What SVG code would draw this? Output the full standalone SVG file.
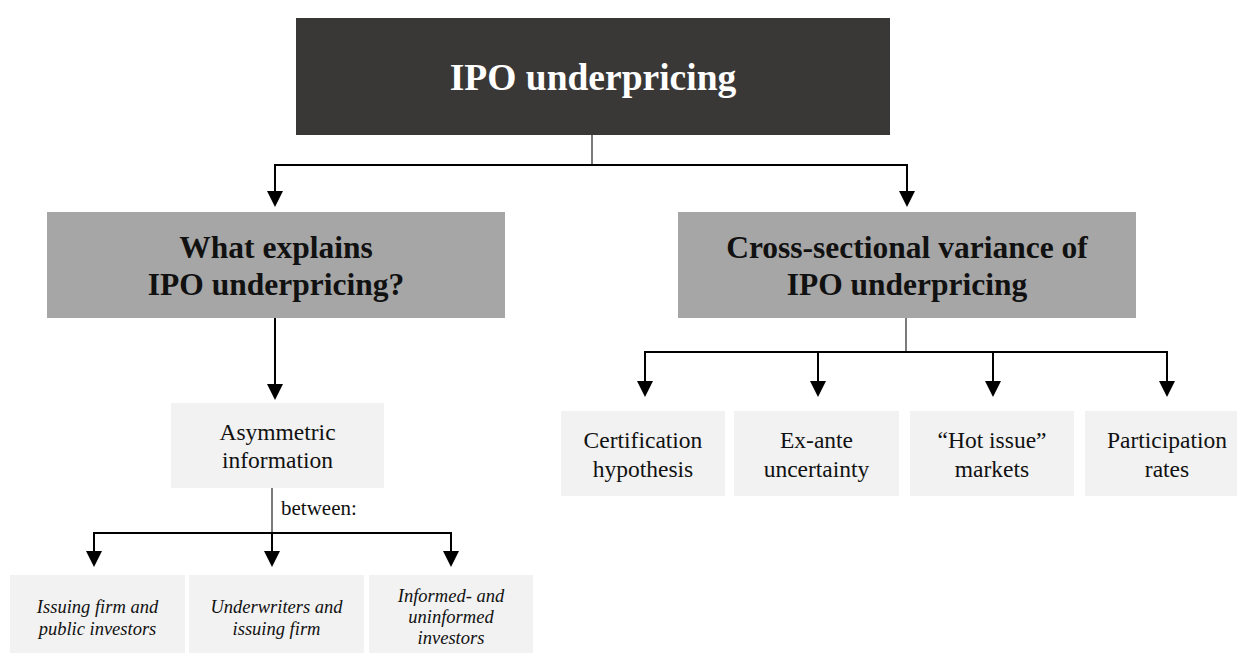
<svg xmlns="http://www.w3.org/2000/svg" width="1237" height="653" viewBox="0 0 1237 653">
<style>
text{font-family:"Liberation Serif","Times New Roman",serif;text-anchor:middle;fill:#111}
.title{font-size:37.5px;font-weight:bold;fill:#fff}
.mid{font-size:31.5px;font-weight:bold}
.leaf{font-size:23.5px}
.it{font-size:18.5px;font-style:italic}
.dark{fill:#3a3836}
.gray{fill:#a6a6a6}
.light{fill:#f2f2f2}
.arr{stroke:#000;stroke-width:2;fill:none;marker-end:url(#ah)}
.bar{stroke:#000;stroke-width:2;fill:none}
.stem{stroke:#222;stroke-width:1.2;fill:none}
</style>
<defs>
<marker id="ah" viewBox="0 0 16 16" markerWidth="16" markerHeight="16" refX="6" refY="8" orient="auto" markerUnits="userSpaceOnUse">
<path d="M0,0 L16,8 L0,16 z" fill="#000"/>
</marker>
</defs>
<rect width="1237" height="653" fill="#fff"/>
<g id="connectors">
<line class="stem" x1="592" y1="135" x2="592" y2="165"/>
<line class="bar" x1="275" y1="165" x2="907" y2="165"/>
<line class="arr" x1="275" y1="164" x2="275" y2="197"/>
<line class="arr" x1="907" y1="164" x2="907" y2="197"/>
<line class="arr" x1="275" y1="318" x2="275" y2="390"/>
<line class="stem" x1="272" y1="488" x2="272" y2="533"/>
<line class="bar" x1="94" y1="533" x2="451" y2="533"/>
<line class="arr" x1="94" y1="532" x2="94" y2="557"/>
<line class="arr" x1="272" y1="532" x2="272" y2="557"/>
<line class="arr" x1="451" y1="532" x2="451" y2="557"/>
<line class="stem" x1="906" y1="318" x2="906" y2="352"/>
<line class="bar" x1="645" y1="352" x2="1167" y2="352"/>
<line class="arr" x1="645" y1="351" x2="645" y2="387"/>
<line class="arr" x1="818" y1="351" x2="818" y2="387"/>
<line class="arr" x1="993" y1="351" x2="993" y2="387"/>
<line class="arr" x1="1167" y1="351" x2="1167" y2="387"/>
<text x="281" y="515" style="font-size:21px;text-anchor:start">between:</text>
</g>
<g id="root">
<rect class="dark" x="296" y="18" width="594" height="117"/>
<text class="title" x="593" y="90">IPO underpricing</text>
</g>
<g id="what-explains">
<rect class="gray" x="47" y="212" width="458" height="106"/>
<text class="mid" x="276" y="258">What explains</text>
<text class="mid" x="276" y="295">IPO underpricing?</text>
</g>
<g id="cross-sectional">
<rect class="gray" x="678" y="212" width="458" height="106"/>
<text class="mid" x="907" y="258">Cross-sectional variance of</text>
<text class="mid" x="907" y="295">IPO underpricing</text>
</g>
<g id="asymmetric">
<rect class="light" x="171" y="403" width="213" height="85"/>
<text class="leaf" x="277.5" y="440">Asymmetric</text>
<text class="leaf" x="277.5" y="468">information</text>
</g>
<g id="issuing-public">
<rect class="light" x="10" y="575" width="175" height="78"/>
<text class="it" x="97.5" y="613">Issuing firm and</text>
<text class="it" x="97.5" y="635">public investors</text>
</g>
<g id="underwriters-issuing">
<rect class="light" x="189" y="575" width="175" height="78"/>
<text class="it" x="276.5" y="613">Underwriters and</text>
<text class="it" x="276.5" y="635">issuing firm</text>
</g>
<g id="informed-uninformed">
<rect class="light" x="369" y="575" width="164" height="78"/>
<text class="it" x="451" y="602">Informed- and</text>
<text class="it" x="451" y="623">uninformed</text>
<text class="it" x="451" y="644">investors</text>
</g>
<g id="certification">
<rect class="light" x="561" y="411" width="164" height="85"/>
<text class="leaf" x="643" y="448">Certification</text>
<text class="leaf" x="643" y="477">hypothesis</text>
</g>
<g id="ex-ante">
<rect class="light" x="734" y="411" width="165" height="85"/>
<text class="leaf" x="816.5" y="448">Ex-ante</text>
<text class="leaf" x="816.5" y="477">uncertainty</text>
</g>
<g id="hot-issue">
<rect class="light" x="910" y="411" width="164" height="85"/>
<text class="leaf" x="992" y="448">“Hot issue”</text>
<text class="leaf" x="992" y="477">markets</text>
</g>
<g id="participation">
<rect class="light" x="1085" y="411" width="164" height="85"/>
<text class="leaf" x="1167" y="448">Participation</text>
<text class="leaf" x="1167" y="477">rates</text>
</g>
</svg>
